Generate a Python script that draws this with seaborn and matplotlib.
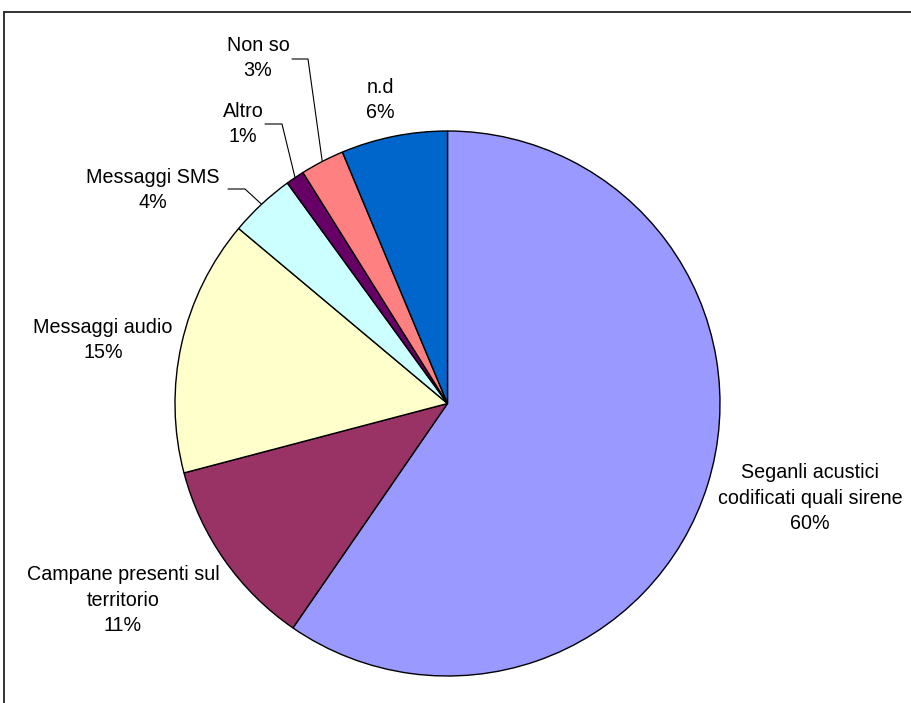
import matplotlib
matplotlib.use("Agg")
import matplotlib.pyplot as plt
from matplotlib.lines import Line2D
import numpy as np
import seaborn as sns

# ---- data ----
categories = ["Seganli acustici\ncodificati quali sirene",
              "Campane presenti sul\nterritorio",
              "Messaggi audio",
              "Messaggi SMS",
              "Altro",
              "Non so",
              "n.d"]
values = [59.6, 11.3, 15.2, 3.9, 1.1, 2.6, 6.3]
colors = ["#9999FF", "#993366", "#FFFFCC", "#CCFFFF", "#660066", "#FF8080", "#0066CC"]

sns.set_theme(style="white")
plt.rcParams['font.family'] = ['Liberation Sans', 'DejaVu Sans']

W, H = 912, 703
fig = plt.figure(figsize=(W / 100, H / 100), dpi=100)
fig.patch.set_facecolor("white")

cx, cy, R = 447.5, 403.5, 272.5
ax = fig.add_axes([(cx - R) / W, (H - cy - R) / H, 2 * R / W, 2 * R / H])
palette = sns.color_palette(colors)
wedges, _ = ax.pie(values, colors=palette, startangle=90, counterclock=False,
                   radius=1.0, wedgeprops=dict(edgecolor="black", linewidth=1.0))
ax.set_xlim(-1, 1)
ax.set_ylim(-1, 1)
ax.set_aspect("equal")
ax.axis("off")

def px2d(px, py):
    return (px - cx) / R, (cy - py) / R

# label placement (pixel centres) and optional leader lines
label_pos = [(810, 498), (123, 600), (103, 340), (153, 190), (243, 124), (258, 58), (380, 100)]
leaders = {3: [(228, 189), (245, 189)], 4: [(265, 124), (282, 124)], 5: [(292, 59), (308, 59)]}

total = sum(values)
for i, (cat, v) in enumerate(zip(categories, values)):
    pct = f"{round(100 * v / total):d}%"
    x, y = px2d(*label_pos[i])
    ax.text(x, y, f"{cat}\n{pct}", ha="center", va="center", multialignment="center",
            fontsize=14.2, linespacing=1.45, color="black", clip_on=False)
    if i in leaders:
        w = wedges[i]
        mid = np.deg2rad((w.theta1 + w.theta2) / 2)
        ex, ey = np.cos(mid), np.sin(mid)
        (p1x, p1y), (p2x, p2y) = leaders[i]
        a = px2d(p1x, p1y)
        b = px2d(p2x, p2y)
        ax.plot([a[0], b[0], ex], [a[1], b[1], ey], color="black", lw=0.8, clip_on=False)

# outer frame (partially visible)
fig.add_artist(Line2D([4.5 / W, 1.0], [1 - 11.5 / H, 1 - 11.5 / H], transform=fig.transFigure,
                      color="#222222", lw=1.3))
fig.add_artist(Line2D([4.5 / W, 4.5 / W], [0, 1 - 11.5 / H], transform=fig.transFigure,
                      color="#222222", lw=1.3))

fig.savefig("out.png", dpi=100, facecolor="white")
